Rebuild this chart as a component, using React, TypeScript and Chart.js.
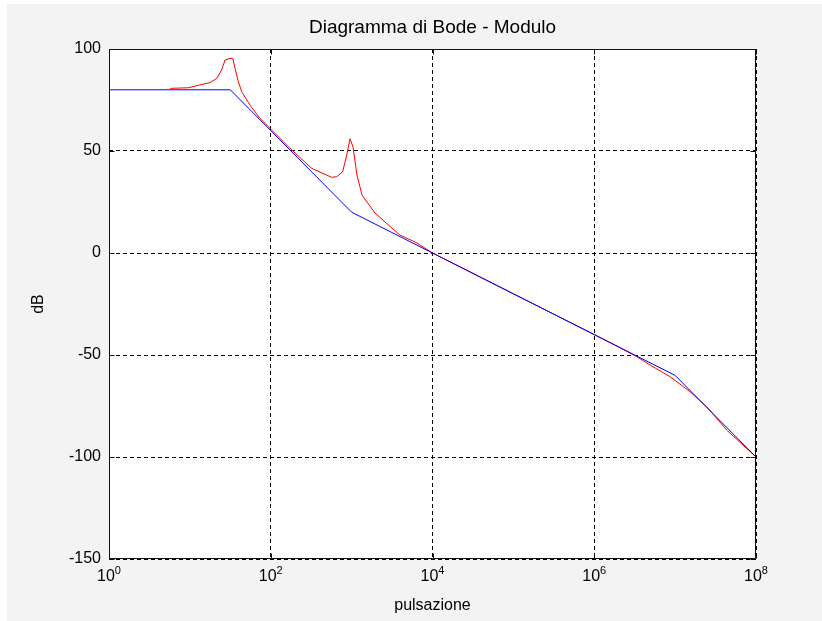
import React, { useEffect, useRef } from "react";
import { Chart, registerables } from "chart.js";

Chart.register(...registerables);

// Asymptotic (blue) Bode magnitude: pulsation / dB
const asymW = [1, 31.62, 1000, 1e7, 1e8];
const asymDb = [80, 80, 20, -60, -100];

const realW = [5.7, 9.6, 13.3, 17.7, 21.5, 24.7, 27.2, 31.3, 33.9, 36.2, 39.7, 43.7, 55.4, 73.6, 97.9, 173, 321, 567, 654, 776, 869, 955, 1040, 1165, 1344, 1944, 2588, 3963, 6380, 1e4, 1e5, 1e6, 2e6, 3.35e6, 4.89e6, 8.64e6, 1.53e7, 2.46e7, 4.34e7, 1e8];
const realDb = [80.7, 81.0, 82.4, 83.5, 85.6, 89.7, 94.6, 95.4, 95.4, 90.5, 84.0, 79.1, 72.5, 66.0, 61.1, 51.3, 41.5, 37.1, 37.4, 39.9, 48.0, 56.0, 52.0, 38.2, 28.4, 19.6, 15.2, 8.8, 5.0, 0, -20, -40, -46.1, -50.8, -54.9, -60.6, -68.0, -75.4, -86.8, -100];

const xTickValues = [1, 1e2, 1e4, 1e6, 1e8];
const xTickExponents = ["0", "2", "4", "6", "8"];
const yTickValues = [-150, -100, -50, 0, 50, 100];
const titleText = "Diagramma di Bode - Modulo";

const FONT = "'Liberation Sans', Arial, Helvetica, sans-serif";

const framePlugin = {
  id: "frame",
  beforeDraw(chart: any) {
    const { ctx, chartArea } = chart;
    ctx.save();
    ctx.fillStyle = "#ffffff";
    ctx.fillRect(0, 0, chart.width, chart.height);
    ctx.fillStyle = "#f3f3f3";
    ctx.fillRect(7, 4, chart.width - 7, chart.height - 4);
    ctx.fillStyle = "#ffffff";
    ctx.fillRect(chartArea.left, chartArea.top, chartArea.right - chartArea.left, chartArea.bottom - chartArea.top);
    ctx.restore();
  },
  afterDraw(chart: any) {
    const { ctx, chartArea } = chart;
    const xs = chart.scales.x;
    const ys = chart.scales.y;
    const L = Math.round(chartArea.left) + 0.5;
    const R = Math.round(chartArea.right) - 0.5;
    const T = Math.round(chartArea.top) + 0.5;
    const B = Math.round(chartArea.bottom) - 0.5;
    ctx.save();
    ctx.strokeStyle = "#111";
    ctx.lineWidth = 1;
    ctx.setLineDash([]);
    ctx.beginPath();
    ctx.rect(L, T, R - L, B - T);
    ctx.stroke();
    const tl = 5;
    ctx.beginPath();
    xTickValues.forEach((v) => {
      const px = Math.round(xs.getPixelForValue(v)) + 0.5;
      ctx.moveTo(px, T);
      ctx.lineTo(px, T + tl);
      ctx.moveTo(px, B);
      ctx.lineTo(px, B - tl);
    });
    yTickValues.forEach((v) => {
      const py = Math.round(ys.getPixelForValue(v)) + 0.5;
      ctx.moveTo(L, py);
      ctx.lineTo(L + tl, py);
      ctx.moveTo(R, py);
      ctx.lineTo(R - tl, py);
    });
    ctx.stroke();

    // title centred over the axes
    ctx.fillStyle = "#000";
    ctx.font = `19px ${FONT}`;
    ctx.textAlign = "center";
    ctx.textBaseline = "middle";
    ctx.fillText(titleText, (chartArea.left + chartArea.right) / 2, 28);

    // x tick labels: 10 with superscript exponent
    ctx.textBaseline = "alphabetic";
    ctx.textAlign = "left";
    xTickValues.forEach((v, i) => {
      const px = xs.getPixelForValue(v);
      ctx.font = `16px ${FONT}`;
      const w10 = ctx.measureText("10").width;
      ctx.font = `11px ${FONT}`;
      const we = ctx.measureText(xTickExponents[i]).width;
      const x0 = px - (w10 + we) / 2;
      ctx.font = `16px ${FONT}`;
      ctx.fillText("10", x0, 581);
      ctx.font = `11px ${FONT}`;
      ctx.fillText(xTickExponents[i], x0 + w10, 574);
    });
    ctx.restore();
  },
};

export default function App() {
  const ref = useRef<HTMLCanvasElement | null>(null);
  useEffect(() => {
    if (!ref.current) return;
    const chart = new Chart(ref.current, {
      type: "scatter",
      data: {
        datasets: [
          {
            label: "asintotico",
            data: asymW.map((w, i) => ({ x: w, y: asymDb[i] })),
            showLine: true,
            borderColor: "#0000ff",
            borderWidth: 1,
            pointRadius: 0,
            tension: 0,
            order: 0,
          },
          {
            label: "reale",
            data: realW.map((w, i) => ({ x: w, y: realDb[i] })),
            showLine: true,
            borderColor: "#ff0000",
            borderWidth: 1,
            pointRadius: 0,
            tension: 0,
            order: 1,
          },
        ],
      },
      options: {
        animation: false,
        responsive: false,
        devicePixelRatio: 1,
        layout: { padding: { left: 0, right: 66, top: 49, bottom: 0 } },
        plugins: {
          legend: { display: false },
          tooltip: { enabled: false },
          title: { display: false },
        },
        scales: {
          x: {
            type: "logarithmic",
            min: 1,
            max: 1e8,
            afterBuildTicks: (s: any) => {
              s.ticks = xTickValues.map((v) => ({ value: v }));
            },
            afterFit: (s: any) => {
              s.height = 62;
            },
            ticks: { display: false },
            grid: { color: "#000", lineWidth: 1, drawTicks: false },
            border: { display: false, dash: [4, 3] },
            title: {
              display: true,
              text: "pulsazione",
              color: "#000",
              font: { family: FONT, size: 16, lineHeight: 1.2 },
              padding: { top: 0, bottom: 5.4 },
            },
          },
          y: {
            type: "linear",
            min: -150,
            max: 100,
            afterBuildTicks: (s: any) => {
              s.ticks = yTickValues.map((v) => ({ value: v }));
            },
            afterFit: (s: any) => {
              s.width = 109;
            },
            ticks: {
              color: "#000",
              font: { family: FONT, size: 16 },
              padding: 8,
            },
            grid: { color: "#000", lineWidth: 1, drawTicks: false },
            border: { display: false, dash: [4, 3] },
            title: {
              display: true,
              text: "dB",
              color: "#000",
              font: { family: FONT, size: 16, lineHeight: 1.2 },
              padding: { top: 29.4, bottom: 0 },
            },
          },
        },
      },
      plugins: [framePlugin],
    } as any);
    return () => chart.destroy();
  }, []);
  return (
    <div style={{ position: "fixed", left: 0, top: 0, width: 822, height: 621 }}>
      <canvas ref={ref} width={822} height={621} style={{ display: "block" }} />
    </div>
  );
}
